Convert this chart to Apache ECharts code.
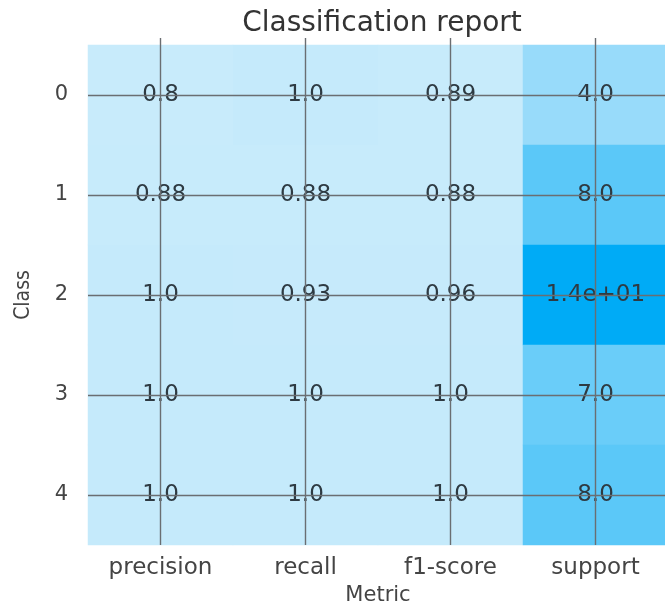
<!DOCTYPE html>
<html>
<head>
<meta charset="utf-8">
<script src="https://cdn.jsdelivr.net/npm/echarts@6/dist/echarts.min.js"></script>
<style>
html,body{margin:0;padding:0;background:#fff;}
#c{width:665px;height:603px;}
</style>
</head>
<body>
<div id="c"></div>
<script>
const classes = ['0', '1', '2', '3', '4'];
const metrics = ['precision', 'recall', 'f1-score', 'support'];
const precision = [0.8, 0.88, 1.0, 1.0, 1.0];
const recall = [1.0, 0.88, 0.93, 1.0, 1.0];
const f1score = [0.89, 0.88, 0.96, 1.0, 1.0];
const support = [4, 8, 14, 7, 8];

const columns = [precision, recall, f1score, support];
const data = [];
columns.forEach((col, ci) => col.forEach((v, ri) => data.push([ci, ri, v])));

function fmt(v) {
  if (v >= 10) {
    const parts = v.toExponential(1).split('e');
    const sign = parts[1][0];
    const d = parts[1].slice(1).padStart(2, '0');
    return parts[0] + 'e' + sign + d;
  }
  let s = v.toPrecision(2);
  if (v < 1 && s.endsWith('0')) s = s.slice(0, -1);
  return s;
}

const FONT = 'DejaVu Sans';
const gridColor = '#6a6e72';
const chart = echarts.init(document.getElementById('c'), null, {renderer: 'canvas'});
chart.setOption({
  backgroundColor: '#fff',
  animation: false,
  title: {
    text: 'Classification report',
    left: 377, top: 5, textAlign: 'center',
    textStyle: {fontFamily: FONT, fontSize: 28, fontWeight: 'normal', color: '#333'}
  },
  grid: {left: 88, top: 45, width: 580, height: 500, containLabel: false, outerBoundsMode: 'none'},
  visualMap: {
    show: false, type: 'continuous', dimension: 2, min: 0.8, max: 14,
    inRange: {color: ['#c8ebfb', '#00abf6']}
  },
  xAxis: [
    {
      type: 'category', data: metrics, position: 'bottom',
      axisLine: {show: false}, axisTick: {show: false}, splitLine: {show: false},
      axisLabel: {fontFamily: FONT, fontSize: 23, color: '#444', margin: 12},
      name: 'Metric', nameLocation: 'middle', nameGap: 40,
      nameTextStyle: {fontFamily: FONT, fontSize: 21, color: '#444'}
    },
    {
      type: 'value', min: 0, max: 8, interval: 1, position: 'bottom', z: 10,
      axisLine: {show: false}, axisTick: {show: false}, axisLabel: {show: false},
      splitLine: {show: true, lineStyle: {color: ['rgba(0,0,0,0)', gridColor], width: 1.4}}
    },
    {
      type: 'category', data: metrics, position: 'top', z: 10,
      axisLine: {show: false}, axisLabel: {show: false}, splitLine: {show: false},
      axisTick: {show: true, alignWithLabel: true, length: 7, lineStyle: {color: gridColor, width: 1.4}}
    }
  ],
  yAxis: [
    {
      type: 'category', data: classes, inverse: true,
      axisLine: {show: false}, axisTick: {show: false}, splitLine: {show: false},
      axisLabel: {fontFamily: FONT, fontSize: 21, color: '#444', margin: 20},
      name: 'Class', nameLocation: 'middle', nameGap: 54,
      nameTextStyle: {fontFamily: 'Liberation Sans Narrow, DejaVu Sans Condensed, DejaVu Sans', fontSize: 21, color: '#444'}
    },
    {
      type: 'value', min: 0, max: 10, interval: 1, inverse: true, position: 'left', z: 10,
      axisLine: {show: false}, axisTick: {show: false}, axisLabel: {show: false},
      splitLine: {show: true, lineStyle: {color: ['rgba(0,0,0,0)', gridColor], width: 1.4}}
    }
  ],
  series: [{
    type: 'heatmap', xAxisIndex: 0, yAxisIndex: 0, data: data,
    label: {
      show: true, fontFamily: FONT, fontSize: 23, color: '#2e3a42',
      formatter: p => fmt(p.value[2])
    },
    itemStyle: {borderWidth: 0},
    emphasis: {disabled: true}
  }]
});
</script>
</body>
</html>
